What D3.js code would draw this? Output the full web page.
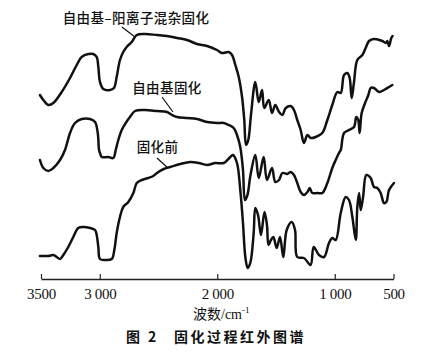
<!DOCTYPE html>
<html>
<head>
<meta charset="utf-8">
<script src="https://cdn.jsdelivr.net/npm/d3@7"></script>
<style>
  html, body { margin: 0; padding: 0; background: #fff; }
  #container { width: 430px; height: 352px; }
</style>
</head>
<body>
<div id="container"></div>
<script>
// 三条红外谱线的数据，[波数 cm^-1, 相对透过率（任意单位，已含纵向偏移）]
// 自由基-阳离子混杂固化
const hybridCured = [
  [3509, 185], [3480, 180], [3438, 175], [3395, 177], [3324, 188], [3253, 202],
  [3196, 215], [3154, 223], [3097, 226], [3055, 226], [3026, 223], [3012, 213],
  [2998, 198], [2970, 191], [2913, 190], [2879, 192], [2856, 203], [2828, 220],
  [2800, 228], [2771, 233], [2728, 238], [2685, 245], [2615, 246], [2513, 245],
  [2428, 244], [2342, 242], [2257, 240], [2172, 236], [2087, 234], [2002, 230],
  [1960, 227], [1902, 228], [1874, 225], [1846, 215], [1817, 203], [1789, 183],
  [1770, 160], [1755, 135], [1736, 140], [1713, 165], [1676, 198], [1647, 178],
  [1619, 190], [1600, 172], [1562, 180], [1534, 167], [1506, 175], [1474, 168],
  [1446, 165], [1417, 172], [1375, 174], [1347, 170], [1319, 160], [1290, 150],
  [1262, 137], [1233, 145], [1205, 142], [1162, 143], [1106, 147], [1063, 160],
  [1021, 175], [978, 188], [949, 187], [921, 205], [893, 207], [873, 202],
  [856, 182], [836, 198], [808, 220], [765, 225], [737, 232], [708, 239],
  [666, 241], [595, 239], [566, 237], [553, 239], [538, 234], [519, 242], [508, 244]
];

// 自由基固化
const radicalCured = [
  [3509, 120], [3480, 112], [3438, 109], [3395, 112], [3338, 120], [3296, 130],
  [3253, 147], [3211, 157], [3154, 161], [3083, 161], [3040, 158], [3017, 147],
  [3006, 130], [2998, 127], [2983, 123], [2927, 123], [2885, 122], [2864, 130],
  [2842, 140], [2813, 150], [2779, 157], [2743, 163], [2700, 169], [2615, 170],
  [2513, 169], [2428, 168], [2385, 165], [2342, 163], [2257, 162], [2172, 161],
  [2087, 158], [2002, 157], [1945, 157], [1902, 155], [1860, 152], [1832, 145],
  [1804, 133], [1781, 110], [1764, 80], [1743, 85], [1717, 105], [1676, 125],
  [1647, 102], [1605, 123], [1577, 100], [1534, 112], [1506, 98], [1474, 100],
  [1446, 107], [1404, 106], [1375, 108], [1347, 105], [1319, 97], [1290, 88],
  [1262, 85], [1233, 88], [1213, 92], [1191, 87], [1148, 87], [1106, 87],
  [1063, 97], [1021, 112], [992, 120], [964, 127], [949, 130], [921, 147],
  [879, 150], [836, 153], [817, 163], [800, 160], [788, 147], [771, 167],
  [742, 177], [714, 185], [694, 192], [666, 192], [623, 188], [581, 190],
  [538, 193], [510, 195]
];

// 固化前
const uncured = [
  [3509, 24], [3438, 24], [3395, 25], [3366, 23], [3338, 21], [3310, 25],
  [3268, 33], [3225, 43], [3183, 52], [3140, 53], [3083, 52], [3040, 50],
  [3026, 45], [3012, 33], [2998, 21], [2955, 20], [2898, 21], [2876, 30],
  [2856, 47], [2828, 63], [2800, 73], [2757, 78], [2714, 87], [2685, 97],
  [2643, 100], [2587, 102], [2544, 104], [2513, 107], [2456, 111], [2400, 113],
  [2314, 116], [2229, 118], [2158, 117], [2087, 115], [2017, 117], [1945, 117],
  [1889, 123], [1866, 125], [1832, 117], [1804, 90], [1781, 57], [1761, 23],
  [1741, 12], [1719, 17], [1690, 47], [1676, 72], [1653, 65], [1628, 45],
  [1598, 68], [1577, 55], [1564, 35], [1543, 40], [1523, 43], [1494, 32],
  [1466, 43], [1438, 23], [1409, 50], [1366, 58], [1338, 50], [1319, 23],
  [1262, 22], [1206, 15], [1179, 33], [1134, 25], [1091, 23], [1049, 37],
  [1021, 42], [992, 40], [949, 67], [907, 83], [879, 80], [850, 63],
  [821, 40], [808, 73], [793, 87], [779, 70], [759, 83], [731, 105],
  [694, 102], [666, 93], [638, 92], [609, 87], [581, 77], [561, 78],
  [538, 90], [496, 97]
];

// 曲线标注：文字位置与引线两端（数据坐标）
const labelTexts = ["自由基\u2013阳离子混杂固化", "自由基固化", "固化前"];
const labelPos = [[2691, 262], [2428, 192], [2508, 133]];
const leaderLines = [
  [[2811, 253], [2700, 243]],
  [[2470, 183], [2377, 168]],
  [[2513, 122], [2419, 112]]
];

// 横坐标刻度
const tickValues = [3500, 3000, 2000, 1000, 500];
const tickLabels = ["3500", "3 000", "2 000", "1 000", "500"];

const xTitle = "波数";
const caption = "图 2\u2002 固化过程红外图谱";

const width = 430;
const height = 352;

const svg = d3.select("#container")
  .append("svg")
  .attr("width", width)
  .attr("height", height)
  .attr("viewBox", [0, 0, width, height]);

const axisY = 279;

// 比例尺：波数从左到右递减
const x = d3.scaleLinear().domain([3500, 500]).range([41, 393.5]);
const y = d3.scaleLinear().domain([0, 255]).range([280, 25]);

// 横坐标轴，刻度线朝上
svg.append("g")
  .attr("transform", `translate(0,${axisY})`)
  .call(d3.axisBottom(x)
    .tickValues(tickValues)
    .tickFormat((d, i) => tickLabels[i])
    .tickSizeInner(-5)
    .tickSizeOuter(0)
    .tickPadding(9))
  .call(g => g.select(".domain").attr("stroke", "#222").attr("stroke-width", 1.3))
  .call(g => g.selectAll(".tick line").attr("stroke", "#222").attr("stroke-width", 1.2))
  .call(g => g.selectAll(".tick text")
    .attr("fill", "#111")
    .attr("font-family", "'Liberation Serif', serif")
    .attr("font-size", 15)
    .attr("letter-spacing", -0.3));

// 谱线
const line = d3.line()
  .curve(d3.curveCatmullRom.alpha(0.5))
  .x(d => x(d[0]))
  .y(d => y(d[1]));

svg.append("g")
  .attr("fill", "none")
  .attr("stroke", "#111")
  .attr("stroke-width", 2.5)
  .attr("stroke-linejoin", "round")
  .attr("stroke-linecap", "round")
  .selectAll("path")
  .data([hybridCured, radicalCured, uncured])
  .join("path")
  .attr("d", line);

// 引线
svg.append("g")
  .attr("stroke", "#111")
  .attr("stroke-width", 1.2)
  .selectAll("line")
  .data(leaderLines)
  .join("line")
  .attr("x1", d => x(d[0][0]))
  .attr("y1", d => y(d[0][1]))
  .attr("x2", d => x(d[1][0]))
  .attr("y2", d => y(d[1][1]));

// 标注文字
svg.append("g")
  .attr("font-family", "'Noto Sans CJK SC', sans-serif")
  .attr("font-size", 13.5)
  .attr("font-weight", 500)
  .attr("fill", "#111")
  .attr("text-anchor", "middle")
  .selectAll("text")
  .data(labelTexts)
  .join("text")
  .attr("x", (d, i) => x(labelPos[i][0]))
  .attr("y", (d, i) => y(labelPos[i][1]))
  .attr("dy", "0.35em")
  .attr("letter-spacing", 0.4)
  .text(d => d);

// 横轴标题：波数/cm⁻¹
const t = svg.append("text")
  .attr("x", x(2000) + 4)
  .attr("y", 319)
  .attr("text-anchor", "middle")
  .attr("fill", "#111")
  .attr("font-size", 14);
t.append("tspan").attr("font-family", "'Noto Sans CJK SC', sans-serif").text(xTitle);
t.append("tspan").attr("font-family", "'Liberation Serif', serif").text("/cm");
t.append("tspan").attr("font-family", "'Liberation Serif', serif")
  .attr("font-size", 9).attr("dy", -6).text("-1");

// 图题
svg.append("text")
  .attr("x", 216)
  .attr("y", 342)
  .attr("text-anchor", "middle")
  .attr("fill", "#111")
  .attr("font-family", "'Noto Sans CJK SC', sans-serif")
  .attr("font-weight", "bold")
  .attr("font-size", 14)
  .attr("letter-spacing", 2.5)
  .text(caption);
</script>
</body>
</html>
